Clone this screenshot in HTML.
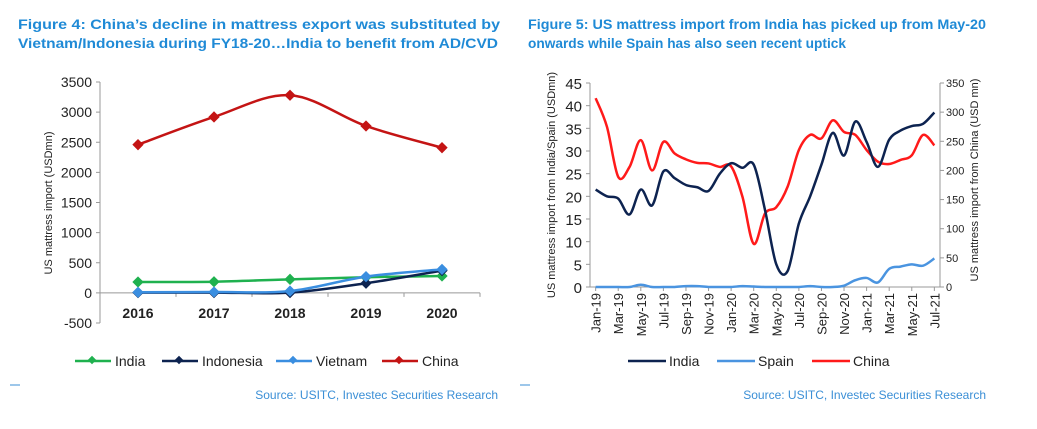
<!DOCTYPE html>
<html><head><meta charset="utf-8"><style>
body{margin:0;background:#fff;}
svg{display:block;font-family:"Liberation Sans",Arial,sans-serif;}
</style></head><body>
<svg width="1037" height="429" viewBox="0 0 1037 429" id="root">
<g fill="#1f8ad6" font-weight="bold" font-size="14">
<text x="18" y="29" textLength="482" lengthAdjust="spacingAndGlyphs">Figure 4: China’s decline in mattress export was substituted by</text>
<text x="18" y="48" textLength="480" lengthAdjust="spacingAndGlyphs">Vietnam/Indonesia during FY18-20…India to benefit from AD/CVD</text>
</g>
<g fill="#1f8ad6" font-weight="bold" font-size="14">
<text x="528" y="29" textLength="458" lengthAdjust="spacingAndGlyphs">Figure 5: US mattress import from India has picked up from May-20</text>
<text x="528" y="48" textLength="318" lengthAdjust="spacingAndGlyphs">onwards while Spain has also seen recent uptick</text>
</g>
<g id="c1"></g>
<g id="c2"></g>
<text x="498" y="399" text-anchor="end" font-size="12" fill="#3b8fd6">Source: USITC, Investec Securities Research</text>
<text x="986" y="399" text-anchor="end" font-size="12" fill="#3b8fd6">Source: USITC, Investec Securities Research</text>
<line x1="10" y1="385" x2="20" y2="385" stroke="#3b8fd6"/>
<line x1="520" y1="385" x2="530" y2="385" stroke="#3b8fd6"/>
</svg>
<script>
// Figure 4 data
const years = ["2016","2017","2018","2019","2020"];
const indiaAnnual = [180, 185, 225, 260, 280];
const indonesiaAnnual = [5, 5, 5, 160, 370];
const vietnamAnnual = [10, 15, 30, 270, 390];
const chinaAnnual = [2460, 2920, 3280, 2770, 2410];
const yTicks1 = [-500,0,500,1000,1500,2000,2500,3000,3500];
// Figure 5 data
const months = ["Jan-19","Feb-19","Mar-19","Apr-19","May-19","Jun-19","Jul-19","Aug-19","Sep-19","Oct-19","Nov-19","Dec-19","Jan-20","Feb-20","Mar-20","Apr-20","May-20","Jun-20","Jul-20","Aug-20","Sep-20","Oct-20","Nov-20","Dec-20","Jan-21","Feb-21","Mar-21","Apr-21","May-21","Jun-21","Jul-21"];
const indiaMonthly = [21.5,20,19.5,16,21.5,18,25.5,24,22.5,22,21.2,25,27.3,26.3,27,17,5,3.5,14,20,27,34,29,36.5,32,26.5,32.5,34.5,35.5,36,38.5];
const spainMonthly = [0,0,0,0,0.5,0,0,0,0.2,0.2,0,0,0,0.2,0.1,0,0,0,0,0.2,0,0,0.3,1.5,2,1,4,4.5,5,4.7,6.3];
const chinaMonthly = [324,275,189,206,252,200,249,229,219,213,212,206,207,155,74,126,137,172,235,261,255,286,266,261,235,215,211,218,226,261,243];
const yTicksL = [0,5,10,15,20,25,30,35,40,45];
const yTicksR = [0,50,100,150,200,250,300,350];

const NS="http://www.w3.org/2000/svg";
function mk(parent,tag,attrs,text){const e=document.createElementNS(NS,tag);for(const k in attrs)e.setAttribute(k,attrs[k]);if(text!==undefined)e.textContent=text;parent.appendChild(e);return e;}
function smooth(pts){let d="M"+pts[0][0]+","+pts[0][1];for(let i=0;i<pts.length-1;i++){const p0=pts[i-1]||pts[i],p1=pts[i],p2=pts[i+1],p3=pts[i+2]||p2;const t=6;d+=" C"+(p1[0]+(p2[0]-p0[0])/t)+","+(p1[1]+(p2[1]-p0[1])/t)+" "+(p2[0]-(p3[0]-p1[0])/t)+","+(p2[1]-(p3[1]-p1[1])/t)+" "+p2[0]+","+p2[1];}return d;}

// Chart 1
const c1=document.getElementById('c1');
const L1=100,R1=480,T1=82,B1=323,ymin1=-500,ymax1=3500;
const y1=v=>B1-(v-ymin1)/(ymax1-ymin1)*(B1-T1);
const bw1=(R1-L1)/years.length;
const x1=i=>L1+bw1*(i+0.5);
let ax=mk(c1,'line',{x1:L1,y1:T1,x2:L1,y2:B1,stroke:'#999'});


yTicks1.forEach(v=>{
  const t=mk(c1,'text',{x:L1-8,y:y1(v)+5,'text-anchor':'end','font-size':14,fill:'#222'},String(v));
  
  
  mk(c1,'line',{x1:L1-4,y1:y1(v),x2:L1,y2:y1(v),stroke:'#999'});
});
let xa=mk(c1,'line',{x1:L1,y1:y1(0),x2:R1,y2:y1(0),stroke:'#999'});


years.forEach((yr,i)=>{
  mk(c1,'line',{x1:L1+bw1*(i+1),y1:y1(0),x2:L1+bw1*(i+1),y2:y1(0)+4,stroke:'#999'});
  const t=mk(c1,'text',{x:x1(i),y:318,'text-anchor':'middle','font-size':14,'font-weight':'bold',fill:'#222'},yr);
  
  
});
let yt=mk(c1,'text',{transform:'translate(52,203) rotate(-90)','text-anchor':'middle','font-size':11,fill:'#222'},'US mattress import  (USDmn)');


const s1=[["India",indiaAnnual,"#1fb14f"],["Indonesia",indonesiaAnnual,"#0d2350"],["Vietnam",vietnamAnnual,"#3a8ee0"],["China",chinaAnnual,"#c41414"]];
s1.forEach(([nm,vals,col])=>{
  const pts=vals.map((v,i)=>[x1(i),y1(v)]);
  const p=mk(c1,'path',{d:smooth(pts),fill:'none',stroke:col,'stroke-width':2.5});
  
  
  pts.forEach(q=>{
    const m=mk(c1,'rect',{x:q[0]-4,y:q[1]-4,width:8,height:8,fill:col,transform:`rotate(45 ${q[0]} ${q[1]})`});
    
    
  });
});
const lx1=[75,162,276,382];
s1.forEach(([nm,vals,col],i)=>{
  const g=mk(c1,'g',{});
  
  
  mk(g,'line',{x1:lx1[i],y1:361,x2:lx1[i]+36,y2:361,stroke:col,'stroke-width':2.5});
  mk(g,'rect',{x:lx1[i]+14,y:357,width:6,height:6,fill:col,transform:`rotate(45 ${lx1[i]+17} 360)`});
  mk(g,'text',{x:lx1[i]+40,y:366,'font-size':14,fill:'#222'},nm);
});

// Chart 2
const c2=document.getElementById('c2');
const L2=590,R2=940,T2=83,B2=287;
const yl=v=>B2-v/45*(B2-T2);
const yr=v=>B2-v/350*(B2-T2);
const bw2=(R2-L2)/months.length;
const x2=i=>L2+bw2*(i+0.5);
let a2=mk(c2,'line',{x1:L2,y1:T2,x2:L2,y2:B2,stroke:'#999'});


let a3=mk(c2,'line',{x1:R2,y1:T2,x2:R2,y2:B2,stroke:'#999'});


let a4=mk(c2,'line',{x1:L2,y1:B2,x2:R2,y2:B2,stroke:'#999'});


yTicksL.forEach(v=>{
  const t=mk(c2,'text',{x:L2-8,y:yl(v)+6,'text-anchor':'end','font-size':15,fill:'#222'},String(v));
  
  
  mk(c2,'line',{x1:L2-4,y1:yl(v),x2:L2,y2:yl(v),stroke:'#999'});
});
yTicksR.forEach(v=>{
  const t=mk(c2,'text',{x:R2+6,y:yr(v)+4,'font-size':11,fill:'#222'},String(v));
  
  
  mk(c2,'line',{x1:R2,y1:yr(v),x2:R2+4,y2:yr(v),stroke:'#999'});
});
months.forEach((m,i)=>{
  if(i%2) return;
  mk(c2,'line',{x1:x2(i),y1:B2,x2:x2(i),y2:B2+4,stroke:'#999'});
  const t=mk(c2,'text',{transform:`translate(${x2(i)+5},${B2+6}) rotate(-90)`,'text-anchor':'end','font-size':13,fill:'#222'},m);
  
  
});
let t2=mk(c2,'text',{transform:'translate(555,185) rotate(-90)','text-anchor':'middle','font-size':11,fill:'#222'},'US mattress import from India/Spain (USDmn)');


let t3=mk(c2,'text',{transform:'translate(978,180) rotate(-90)','text-anchor':'middle','font-size':11,fill:'#222'},'US mattress import from China (USD mn)');


const s2=[["China",chinaMonthly,"#ff1a1a",yr],["Spain",spainMonthly,"#4a94e0",yl],["India",indiaMonthly,"#0d2350",yl]];
s2.forEach(([nm,vals,col,ys])=>{
  const p=mk(c2,'path',{d:smooth(vals.map((v,i)=>[x2(i),ys(v)])),fill:'none',stroke:col,'stroke-width':2.5});
  
  
});
const leg2=[["India","#0d2350",628],["Spain","#4a94e0",717],["China","#ff1a1a",812]];
leg2.forEach(([nm,col,lx])=>{
  const g=mk(c2,'g',{});
  
  
  mk(g,'line',{x1:lx,y1:361,x2:lx+38,y2:361,stroke:col,'stroke-width':2.5});
  mk(g,'text',{x:lx+41,y:366,'font-size':14,fill:'#222'},nm);
});
</script>
</body></html>
